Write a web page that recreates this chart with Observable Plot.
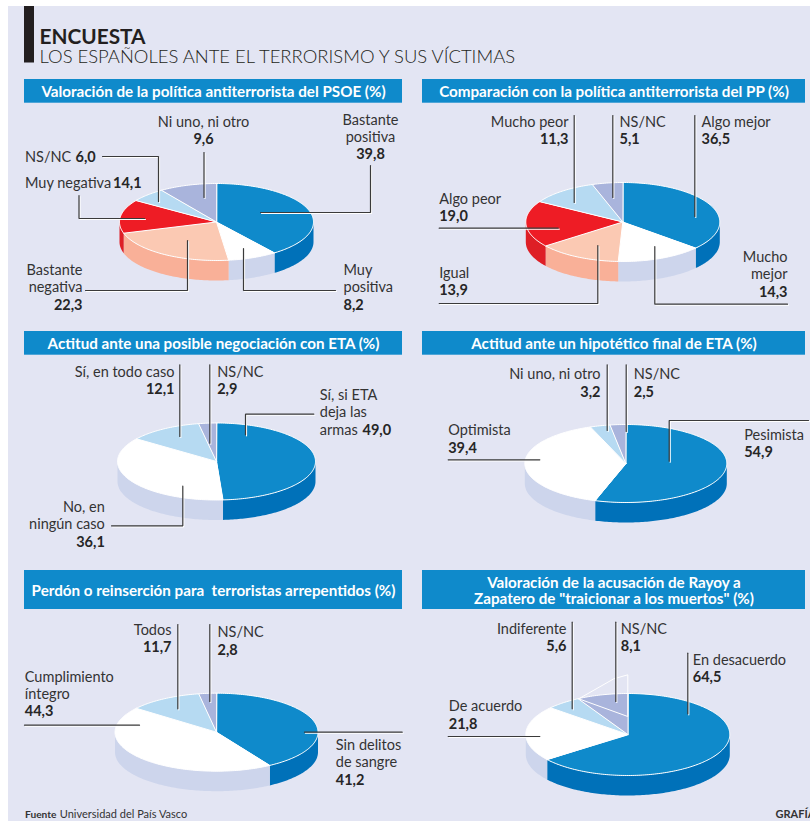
<!DOCTYPE html>
<html>
<head>
<meta charset="utf-8">
<title>Encuesta</title>
<style>html,body{margin:0;padding:0;background:#fff}svg{display:block}</style>
<script src="https://cdn.jsdelivr.net/npm/d3@7"></script>
<script src="https://cdn.jsdelivr.net/npm/@observablehq/plot@0.6"></script>
</head>
<body>
<div id="chart"></div>
<script>
// ---- Data ----
const headerTitle = "ENCUESTA";
const headerSubtitle = "LOS ESPAÑOLES ANTE EL TERRORISMO Y SUS VÍCTIMAS";
const source = "Universidad del País Vasco";

const psoeTones = ["blue", "white", "peach", "red", "sky", "lavender"];
const psoeValues = [39.8, 8.2, 22.3, 14.1, 6.0, 9.6];

const ppTones = ["blue", "white", "peach", "red", "sky", "lavender"];
const ppValues = [36.5, 14.3, 13.9, 19.0, 11.3, 5.1];

const negTones = ["blue", "white", "sky", "lavender"];
const negValues = [49.0, 36.1, 12.1, 2.9];

const finalTones = ["blue", "white", "sky", "lavender"];
const finalValues = [54.9, 39.4, 3.2, 2.5];

const perdonTones = ["blue", "white", "sky", "lavender"];
const perdonValues = [41.2, 44.3, 11.7, 2.8];

const rayoyTones = ["blue", "white", "sky", "lavender"];
const rayoyValues = [64.5, 21.8, 5.6, 8.1];

// ---- Layout (pixels on the page) ----
const FONT = "Lato";
const pies = [
  {values: psoeValues, tones: psoeTones, cx: 216, cy: 221.5, rx: 97, ry: 38.5, depth: 20},
  {values: ppValues, tones: ppTones, cx: 622.3, cy: 221.5, rx: 97, ry: 39.5, depth: 20},
  {values: negValues, tones: negTones, cx: 216, cy: 461, rx: 99, ry: 38.5, depth: 20},
  {values: finalValues, tones: finalTones, cx: 625.3, cy: 463, rx: 101, ry: 39, depth: 20},
  {values: perdonValues, tones: perdonTones, cx: 216, cy: 731.7, rx: 101.5, ry: 39, depth: 20},
  {values: rayoyValues, tones: rayoyTones, cx: 627.3, cy: 734, rx: 102, ry: 41, depth: 20}
];
const toneDomain = ["blue", "white", "peach", "red", "sky", "lavender",
  "blue-side", "white-side", "peach-side", "red-side", "sky-side", "lavender-side"];
const toneRange = ["#0f8acb", "#ffffff", "#fbc9b3", "#ee1c25", "#b6daf2", "#a9b4dc",
  "#0071b9", "#cdd5ec", "#f9b098", "#de1f26", "#9cc8e8", "#8f9bcb"];

const panels = [
  {x1: 24, x2: 402, y1: 79, y2: 102.7, lines: [["Valoración de la política antiterrorista del PSOE (%)", 96]]},
  {x1: 422, x2: 805, y1: 79, y2: 102.7, lines: [["Comparación con la política antiterrorista del PP (%)", 96]]},
  {x1: 24, x2: 402, y1: 331, y2: 354.7, lines: [["Actitud ante una posible negociación con ETA (%)", 348]]},
  {x1: 422, x2: 805, y1: 331, y2: 354.7, lines: [["Actitud ante un hipotético final de ETA (%)", 348]]},
  {x1: 24, x2: 402, y1: 570, y2: 609, lines: [["Perdón o reinserción para  terroristas arrepentidos (%)", 595]]},
  {x1: 422, x2: 805, y1: 570, y2: 609, lines: [["Valoración de la acusación de Rayoy a", 587], ["Zapatero de \"traicionar a los muertos\" (%)", 603.5]]}
];

// [text, x, baseline y, anchor]
const plainLabels = [
  ["Ni uno, ni otro", 203, 126, "middle"], ["Bastante", 370, 124, "middle"], ["positiva", 370, 141, "middle"],
  ["NS/NC", 24.5, 161, "start"], ["Muy negativa", 24.5, 187, "start"],
  ["Bastante", 82, 274, "end"], ["negativa", 82, 291.7, "end"],
  ["Muy", 343, 274, "start"], ["positiva", 343, 291.3, "start"],
  ["Mucho peor", 568, 126, "end"], ["NS/NC", 619, 126, "start"], ["Algo mejor", 701, 126, "start"],
  ["Algo peor", 438.7, 203, "start"], ["Igual", 438.7, 277, "start"],
  ["Mucho", 787, 261.7, "end"], ["mejor", 787, 278.7, "end"],
  ["Sí, en todo caso", 174, 376, "end"], ["NS/NC", 216.7, 376, "start"],
  ["Sí, si ETA", 319.3, 399.3, "start"], ["deja las", 319.3, 416.7, "start"], ["armas", 319.3, 434, "start"],
  ["No, en", 104.3, 511, "end"], ["ningún caso", 104.3, 528.3, "end"],
  ["Ni uno, ni otro", 600, 378.3, "end"], ["NS/NC", 633.3, 378.3, "start"],
  ["Optimista", 447.7, 434.3, "start"], ["Pesimista", 743.7, 439, "start"],
  ["Todos", 171, 634, "end"], ["NS/NC", 217, 636.7, "start"],
  ["Cumplimiento", 24.3, 681, "start"], ["íntegro", 24.3, 698.3, "start"],
  ["Sin delitos", 335.3, 749.3, "start"], ["de sangre", 335.3, 766.7, "start"],
  ["Indiferente", 566, 633.3, "end"], ["NS/NC", 620.3, 633.3, "start"],
  ["En desacuerdo", 692.3, 664, "start"], ["De acuerdo", 448.3, 710.7, "start"]
];
// [pie index, value index, x, baseline y, anchor]
const valueLabels = [
  [0, 5, 203, 143, "middle"], [0, 0, 370, 158, "middle"], [0, 4, 75, 161, "start"], [0, 3, 112.5, 187, "start"],
  [0, 2, 82, 309, "end"], [0, 1, 343, 309, "start"],
  [1, 4, 568, 143, "end"], [1, 5, 619, 143, "start"], [1, 0, 701, 143, "start"],
  [1, 3, 438.7, 220, "start"], [1, 2, 438.7, 294.7, "start"], [1, 1, 787, 296, "end"],
  [2, 2, 174, 393, "end"], [2, 3, 216.7, 393, "start"], [2, 0, 362, 434, "start"], [2, 1, 104.3, 546, "end"],
  [3, 2, 600, 396, "end"], [3, 3, 633.3, 396, "start"], [3, 1, 447.7, 452, "start"], [3, 0, 743.7, 456, "start"],
  [4, 2, 171, 651.7, "end"], [4, 3, 217, 654, "start"], [4, 1, 24.3, 715.3, "start"], [4, 0, 335.3, 784, "start"],
  [5, 2, 566, 650.7, "end"], [5, 3, 620.3, 650.7, "start"], [5, 0, 692.3, 681.7, "start"], [5, 1, 448.3, 728.3, "start"]
];
const leaders = [
  [[102, 156], [158, 156], [158, 201]],
  [[203.5, 152], [203.5, 197]],
  [[370, 165], [370, 212], [260, 212]],
  [[78.5, 195], [78.5, 218], [144, 218]],
  [[85, 290], [187, 290], [187, 240]],
  [[335, 290], [243, 290], [243, 248]],
  [[573.7, 115], [573.7, 202]],
  [[612.3, 115], [612.3, 197]],
  [[694.3, 115], [694.3, 216]],
  [[438.7, 227.7], [557.7, 227.7]],
  [[438.7, 303], [597.3, 303], [597.3, 245]],
  [[787, 303.7], [654.3, 303.7], [654.3, 246]],
  [[179.3, 364.3], [179.3, 436]],
  [[209.3, 364.3], [209.3, 442.7]],
  [[313.3, 413.7], [245, 413.7], [245, 434.3]],
  [[111, 525.3], [182.3, 525.3], [182.3, 485.7]],
  [[606.7, 364.3], [606.7, 430]],
  [[625.7, 364.3], [625.7, 431]],
  [[447.7, 459.3], [539.3, 459.3]],
  [[808, 420], [668.7, 420], [668.7, 460.7]],
  [[177.3, 624], [177.3, 708.3]],
  [[209.3, 624], [209.3, 701]],
  [[24, 724.7], [139, 724.7]],
  [[401.7, 731.7], [304, 731.7]],
  [[571.7, 621.7], [571.7, 708.3]],
  [[615.3, 621.7], [615.3, 701]],
  [[687.3, 652.7], [687.3, 713.3]],
  [[447.7, 736], [539.3, 736]]
];
// Stray outline left on the last pie's NS/NC slice in the original
const strayOutline = [[578.3, 698.3], [613.3, 678.3], [627.3, 674.3], [627.3, 716], [578.3, 698.3]];

// ---- Geometry built from the values ----
const TAU = Math.PI * 2;
const tops = [], sides = [];
pies.forEach((p, pi) => {
  const total = d3.sum(p.values);
  const at = (a, drop = 0) => ({x: p.cx + p.rx * Math.sin(a), y: p.cy - p.ry * Math.cos(a) + drop});
  let start = 0;
  p.values.forEach((v, i) => {
    const a0 = start / total * TAU, a1 = (start + v) / total * TAU;
    start += v;
    const n = Math.max(2, Math.ceil((a1 - a0) / 0.02));
    const id = pi + "-" + i;
    tops.push({id, tone: p.tones[i], x: p.cx, y: p.cy});
    for (let k = 0; k <= n; k++) tops.push({id, tone: p.tones[i], ...at(a0 + (a1 - a0) * k / n)});
    // wall: only the part of the rim facing the viewer
    const s0 = Math.max(a0, Math.PI / 2), s1 = Math.min(a1, Math.PI * 1.5);
    if (s1 > s0) {
      const m = Math.max(2, Math.ceil((s1 - s0) / 0.02));
      const upper = d3.range(m + 1).map(k => at(s0 + (s1 - s0) * k / m));
      const lower = d3.range(m, -1, -1).map(k => at(s0 + (s1 - s0) * k / m, p.depth));
      for (const q of [...upper, ...lower]) sides.push({id, tone: p.tones[i] + "-side", ...q});
    }
  });
});
const leaderPts = leaders.flatMap((l, i) => l.map(([x, y]) => ({i, x, y})));
const valueText = valueLabels.map(([pi, vi, x, y, anchor]) => ({
  text: pies[pi].values[vi].toFixed(1).replace(".", ","), x, y, anchor
}));
const plainText = plainLabels.map(([text, x, y, anchor]) => ({text, x, y, anchor}));
const panelText = panels.flatMap(p => p.lines.map(([text, y]) => ({text, y, x: (p.x1 + p.x2) / 2})));

const textMarks = (rows, anchor, opts) => Plot.text(rows.filter(d => d.anchor === anchor), {
  x: "x", y: "y", text: "text", textAnchor: anchor, lineAnchor: "bottom", ...opts
});

const chart = Plot.plot({
  width: 810, height: 821, margin: 0,
  x: {type: "linear", domain: [0, 810], range: [0, 810], axis: null},
  y: {type: "linear", domain: [0, 821], range: [0, 821], axis: null},
  color: {domain: toneDomain, range: toneRange},
  style: {fontFamily: FONT, background: "transparent"},
  marks: [
    Plot.rect([{x1: 8, x2: 810, y1: 6, y2: 821}], {x1: "x1", x2: "x2", y1: "y1", y2: "y2", fill: "#e3e5f3"}),
    Plot.rect([{x1: 24, x2: 34, y1: 6, y2: 62.5}], {x1: "x1", x2: "x2", y1: "y1", y2: "y2", fill: "#231f20"}),
    Plot.rect(panels, {x1: "x1", x2: "x2", y1: "y1", y2: "y2", fill: "#0f8acb"}),
    Plot.text([headerTitle], {x: 39, y: 43.3, text: d => d, textAnchor: "start", lineAnchor: "bottom", fontSize: 20.8, fontWeight: 700, fill: "#231f20"}),
    Plot.text([headerSubtitle], {x: 39, y: 62.7, text: d => d, textAnchor: "start", lineAnchor: "bottom", fontSize: 18.45, fontWeight: 300, fill: "#231f20"}),
    Plot.text(panelText, {x: "x", y: "y", text: "text", textAnchor: "middle", lineAnchor: "bottom", fontSize: 15.2, fontWeight: 700, fill: "white"}),

    Plot.line(sides, {x: "x", y: "y", z: "id", fill: "tone", stroke: null, curve: "linear-closed"}),
    Plot.line(tops, {x: "x", y: "y", z: "id", fill: "tone", stroke: "white", strokeWidth: 1, curve: "linear-closed"}),
    Plot.line(strayOutline.map(([x, y]) => ({x, y})), {x: "x", y: "y", stroke: "white", strokeWidth: 1, curve: "linear"}),

    Plot.line(leaderPts, {x: "x", y: "y", z: "i", stroke: "white", strokeWidth: 1.2, dx: 1, dy: 1, strokeLinejoin: "miter", curve: "linear"}),
    Plot.line(leaderPts, {x: "x", y: "y", z: "i", stroke: "#3a3a3a", strokeWidth: 1.2, strokeLinejoin: "miter", curve: "linear"}),

    ...["start", "middle", "end"].flatMap(a => [
      textMarks(plainText, a, {fontSize: 14.5, fontWeight: 400, fill: "#333333"}),
      textMarks(valueText, a, {fontSize: 14.5, fontWeight: 700, fill: "#262626"})
    ]),

    Plot.text(["Fuente"], {x: 24.5, y: 817.3, text: d => d, textAnchor: "start", lineAnchor: "bottom", fontSize: 10.2, fontWeight: 700, fill: "#333333"}),
    Plot.text([source], {x: 59.3, y: 817.3, text: d => d, textAnchor: "start", lineAnchor: "bottom", fontSize: 11, fill: "#333333"}),
    Plot.text(["GRAFÍA"], {x: 775, y: 817.3, text: d => d, textAnchor: "start", lineAnchor: "bottom", fontSize: 11, fontWeight: 700, fill: "#333333"})
  ]
});
document.getElementById("chart").append(chart);
</script>
</body>
</html>
